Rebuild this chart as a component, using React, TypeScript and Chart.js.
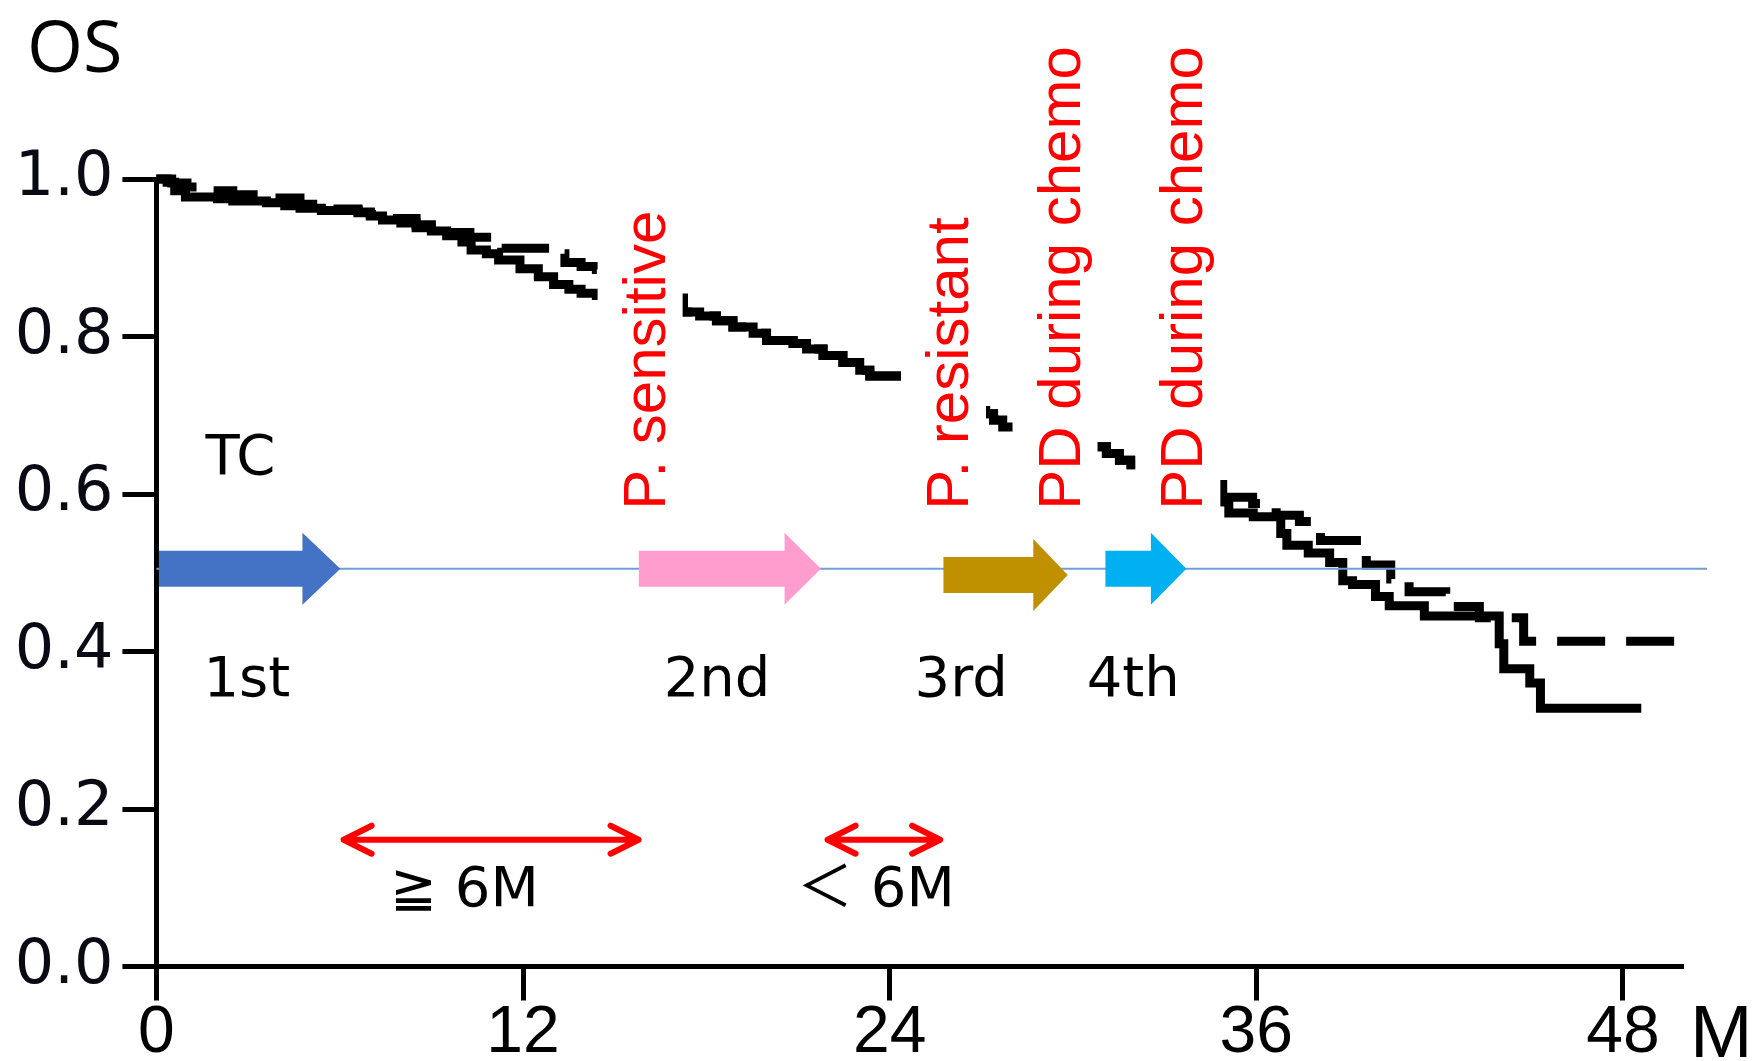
import React, { useEffect, useRef } from "react";
import { Chart, registerables } from "chart.js";

Chart.register(...registerables);

const W = 1752;
const H = 1061;

// Kaplan-Meier curves: months and overall survival
const solidTimes = [0, 0.35, 0.6, 0.95, 2.0, 2.5, 3.6, 4.2, 4.7, 5.4, 6.6, 7.0, 7.4, 8.0, 8.5, 9.0, 9.5, 10.0, 10.3, 10.8, 11.2, 11.9, 12.5, 13.0, 13.5, 13.9, 14.4, 15.3, 16.3, 17.25, 17.78, 18.33, 18.87, 19.53, 19.97, 20.84, 21.28, 21.82, 22.47, 23.02, 23.35, 24.6, 25.3, 26.0, 26.7, 27.14, 27.4, 27.7, 28.3, 29.0, 29.8, 30.5, 31.09, 31.52, 31.9, 32.4, 33.0, 33.8, 34.5, 34.9, 35.1, 35.9, 36.8, 37.0, 37.7, 38.4, 38.83, 39.15, 39.9, 40.35, 41.5, 43.95, 44.1, 44.95, 45.3, 48.6];
const solidSurv = [1.0, 0.996, 0.985, 0.977, 0.975, 0.972, 0.97, 0.966, 0.963, 0.96, 0.957, 0.953, 0.948, 0.944, 0.938, 0.934, 0.928, 0.92, 0.91, 0.905, 0.897, 0.886, 0.876, 0.866, 0.86, 0.855, 0.852, 0.85, 0.848, 0.831, 0.826, 0.82, 0.812, 0.804, 0.795, 0.791, 0.784, 0.776, 0.767, 0.757, 0.75, 0.74, 0.728, 0.715, 0.706, 0.702, 0.694, 0.685, 0.678, 0.672, 0.666, 0.66, 0.6515, 0.643, 0.637, 0.63, 0.625, 0.62, 0.612, 0.59, 0.576, 0.571, 0.55, 0.535, 0.525, 0.513, 0.49, 0.485, 0.47, 0.458, 0.445, 0.41, 0.378, 0.36, 0.328, 0.328];

const dashedTimes = [0, 0.5, 1.0, 1.5, 2.5, 3.6, 4.7, 5.4, 6.6, 7.0, 7.4, 8.5, 9.0, 9.4, 10.26, 11.3, 12.9, 13.37, 13.9, 14.4, 15.5, 16.5, 17.25, 17.78, 18.33, 18.87, 19.53, 19.97, 20.84, 21.28, 21.82, 22.47, 23.02, 23.35, 24.6, 25.3, 26.0, 26.7, 27.14, 27.4, 27.7, 28.3, 29.0, 29.8, 30.5, 31.09, 31.52, 31.9, 32.4, 33.0, 33.8, 34.5, 34.88, 35.88, 36.65, 37.41, 38.1, 39.6, 40.4, 41.0, 42.2, 43.3, 44.75, 49.84];
const dashedSurv = [1.0, 0.995, 0.99, 0.985, 0.98, 0.976, 0.968, 0.962, 0.958, 0.955, 0.95, 0.942, 0.937, 0.932, 0.926, 0.912, 0.905, 0.894, 0.889, 0.885, 0.87, 0.849, 0.831, 0.826, 0.82, 0.812, 0.804, 0.795, 0.791, 0.784, 0.776, 0.767, 0.757, 0.75, 0.74, 0.728, 0.715, 0.706, 0.702, 0.694, 0.685, 0.678, 0.672, 0.666, 0.66, 0.6515, 0.643, 0.637, 0.63, 0.625, 0.62, 0.612, 0.596, 0.588, 0.573, 0.565, 0.541, 0.51, 0.492, 0.476, 0.457, 0.443, 0.413, 0.413];

const xTicks = [0, 12, 24, 36, 48];
const yTicks = [0, 0.2, 0.4, 0.6, 0.8, 1.0];

// treatment lines (months)
const lineNames = ["1st", "2nd", "3rd", "4th"];
const lineStart = [0, 15.79, 25.76, 31.06];
const lineHeadStart = [4.78, 20.56, 28.7, 32.55];
const lineEnd = [6.02, 21.75, 29.83, 33.71];
const lineLevel = [0.505, 0.505, 0.497, 0.505];
const lineColors = ["#4472C4", "#FF9ECE", "#BF9000", "#00B0F0"];
const lineNameX = [2.96, 18.35, 26.34, 31.97];
const lineNameY = 0.362;

const regimenName = "TC";
const regimenX = 2.75;
const regimenY = 0.644;

// platinum status labels
const statusNames = ["P. sensitive", "P. resistant", "PD during chemo", "PD during chemo"];
const statusX = [15.93, 25.86, 29.51, 33.53];
const statusBaseY = 0.58;

// intervals
const intervalNames = ["≧ 6M", "＜ 6M"];
const intervalStart = [6.03, 21.87];
const intervalEnd = [15.88, 25.75];
const intervalY = 0.161;
const intervalNameX = [10.08, 23.55];
const intervalNameY = 0.095;

const refLevel = 0.505;
const refEnd = 50.75;

const overlay = {
  id: "overlay",
  afterDatasetsDraw(chart: any) {
    const { ctx, scales } = chart;
    const X = (v: number) => scales.x.getPixelForValue(v);
    const Y = (v: number) => scales.y.getPixelForValue(v);
    ctx.save();

    // status labels on white boxes
    ctx.font = '60px "Liberation Sans", Arial, sans-serif';
    statusNames.forEach((t, i) => {
      const cx = X(statusX[i]);
      const by = Y(statusBaseY);
      const w = ctx.measureText(t).width;
      const cap = 43;
      ctx.fillStyle = "#ffffff";
      ctx.fillRect(cx - cap / 2 - 24, by - w - 12, 85, w + 24);
      ctx.save();
      ctx.translate(cx + cap / 2, by);
      ctx.rotate(-Math.PI / 2);
      ctx.fillStyle = "#FF0000";
      ctx.textAlign = "left";
      ctx.textBaseline = "alphabetic";
      ctx.fillText(t, 0, 0);
      ctx.restore();
    });

    // reference line
    ctx.strokeStyle = "#6F9FD8";
    ctx.lineWidth = 2;
    ctx.beginPath();
    ctx.moveTo(X(0), Y(refLevel));
    ctx.lineTo(X(refEnd), Y(refLevel));
    ctx.stroke();

    // block arrows
    lineStart.forEach((s, i) => {
      const x0 = Math.max(X(s), chart.chartArea.left + 2.5);
      const xh = X(lineHeadStart[i]);
      const xt = X(lineEnd[i]);
      const yc = Y(lineLevel[i]);
      const sh = 18;
      const hh = 36;
      ctx.fillStyle = lineColors[i];
      ctx.beginPath();
      ctx.moveTo(x0, yc - sh);
      ctx.lineTo(xh, yc - sh);
      ctx.lineTo(xh, yc - hh);
      ctx.lineTo(xt, yc);
      ctx.lineTo(xh, yc + hh);
      ctx.lineTo(xh, yc + sh);
      ctx.lineTo(x0, yc + sh);
      ctx.closePath();
      ctx.fill();
    });

    // red double arrows
    ctx.strokeStyle = "#FF0000";
    ctx.lineWidth = 6;
    ctx.lineCap = "round";
    ctx.lineJoin = "round";
    intervalStart.forEach((s, i) => {
      const x0 = X(s) + 3;
      const x1 = X(intervalEnd[i]) - 3;
      const y = Y(intervalY);
      ctx.beginPath();
      ctx.moveTo(x0, y);
      ctx.lineTo(x1, y);
      ctx.moveTo(x0 + 28, y - 14);
      ctx.lineTo(x0, y);
      ctx.lineTo(x0 + 28, y + 14);
      ctx.moveTo(x1 - 28, y - 14);
      ctx.lineTo(x1, y);
      ctx.lineTo(x1 - 28, y + 14);
      ctx.stroke();
    });

    // black labels
    ctx.fillStyle = "#000";
    ctx.textAlign = "center";
    ctx.textBaseline = "middle";
    ctx.font = '56px "DejaVu Sans", "Noto Sans CJK JP", sans-serif';
    ctx.fillText(regimenName, X(regimenX), Y(regimenY));
    lineNames.forEach((t, i) => ctx.fillText(t, X(lineNameX[i]), Y(lineNameY)));
    intervalNames.forEach((t, i) => ctx.fillText(t, X(intervalNameX[i]), Y(intervalNameY)));

    // axis titles
    ctx.textAlign = "left";
    ctx.textBaseline = "alphabetic";
    ctx.font = '72px "Open Sans", "Noto Sans", sans-serif';
    ctx.fillText("OS", 27, 72);
    ctx.font = '75px "Liberation Sans", Arial, sans-serif';
    ctx.fillText("M", 1690, 1057);
    ctx.restore();
  },
};

export default function App() {
  const ref = useRef<HTMLCanvasElement>(null);
  useEffect(() => {
    const canvas = ref.current as HTMLCanvasElement;
    const mk = (ts: number[], ss: number[]) => ts.map((t, i) => ({ x: t, y: ss[i] }));
    const chart = new Chart(canvas, {
      type: "line",
      data: {
        datasets: [
          {
            label: "B",
            data: mk(dashedTimes, dashedSurv),
            borderColor: "#000",
            borderWidth: 9,
            borderDash: [48, 21],
            borderCapStyle: "butt",
            borderJoinStyle: "miter",
            stepped: true,
            pointRadius: 0,
            fill: false,
            clip: false,
          } as any,
          {
            label: "A",
            data: mk(solidTimes, solidSurv),
            borderColor: "#000",
            borderWidth: 9,
            borderCapStyle: "butt",
            borderJoinStyle: "miter",
            stepped: true,
            pointRadius: 0,
            fill: false,
            clip: false,
          } as any,
        ],
      },
      options: {
        animation: false,
        responsive: false,
        devicePixelRatio: 1,
        events: [],
        layout: { padding: { top: 179, right: 71, left: 0, bottom: 0 } },
        plugins: { legend: { display: false }, tooltip: { enabled: false } },
        scales: {
          x: {
            type: "linear",
            min: 0,
            max: 49.9,
            afterFit: (s: any) => {
              s.height = 94.5;
            },
            afterBuildTicks: (s: any) => {
              s.ticks = xTicks.map((v) => ({ value: v }));
            },
            grid: { drawOnChartArea: false, drawTicks: true, tickLength: 34, lineWidth: 5, color: "#000" },
            border: { display: true, width: 5, color: "#000" },
            ticks: {
              color: "#000",
              padding: 0,
              maxRotation: 0,
              autoSkip: false,
              font: { family: '"Liberation Sans", Arial, sans-serif', size: 66, lineHeight: 1 },
              callback: (v: any) => String(v),
            },
          },
          y: {
            type: "linear",
            min: 0,
            max: 1,
            afterFit: (s: any) => {
              s.width = 156.4;
            },
            afterBuildTicks: (s: any) => {
              s.ticks = yTicks.map((v) => ({ value: v }));
            },
            grid: { drawOnChartArea: false, drawTicks: true, tickLength: 34, lineWidth: 5, color: "#000" },
            border: { display: true, width: 5, color: "#000" },
            ticks: {
              color: "#0a0a14",
              padding: 9,
              font: { family: '"DejaVu Sans", Verdana, sans-serif', size: 62 },
              callback: (v: any) => Number(v).toFixed(1),
            },
          },
        },
      } as any,
      plugins: [overlay],
    });
    return () => chart.destroy();
  }, []);
  return (
    <div style={{ position: "fixed", left: 0, top: 0, width: W, height: H, background: "#fff" }}>
      <canvas ref={ref} width={W} height={H} style={{ display: "block", width: W, height: H }} />
    </div>
  );
}
